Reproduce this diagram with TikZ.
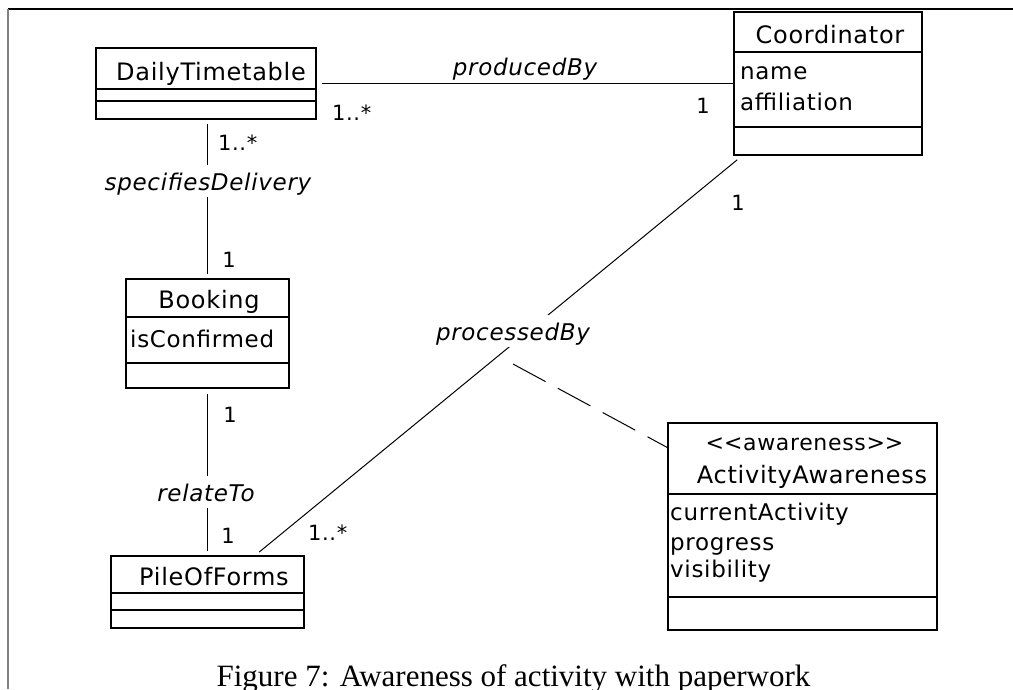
\documentclass[tikz,border=0pt]{standalone}
\usepackage{fontspec}
\setmainfont{Liberation Serif}
\newfontfamily\umlfont{DejaVu Sans}[ItalicFont={DejaVu Sans Oblique}, LetterSpace=3]
\usetikzlibrary{calc}
\begin{document}
\begin{tikzpicture}[x=1pt,y=-1pt,
  cls/.style={draw, line width=1.6pt, inner sep=0pt},
  div/.style={line width=1.5pt},
  cname/.style={font=\umlfont\fontsize{24}{28}\selectfont, anchor=base, inner sep=0pt},
  attr/.style={font=\umlfont\fontsize{23}{28}\selectfont, anchor=base west, inner sep=0pt},
  mult/.style={font=\umlfont\fontsize{21}{25}\selectfont, anchor=base, inner sep=0pt},
  assoc/.style={font=\umlfont\itshape\fontsize{23}{28}\selectfont, anchor=base, fill=white,
    text height=23pt, text depth=5pt, inner ysep=2pt, inner xsep=2pt},
  conn/.style={line width=1.3pt},
  thinconn/.style={line width=1pt},
]
\useasboundingbox (0,0) rectangle (1013,689);
\fill[white] (0,0) rectangle (1013,689);

% frame
\coordinate (ftl) at (8,9);
\coordinate (ftr) at (1013,9);
\coordinate (fbl) at (8,689);
\draw[line width=1.2pt] (ftl) -- (ftr);
\draw[line width=2pt, gray] (ftl) -- (fbl);

% class boxes
\node[cls, minimum width=220pt, minimum height=71pt] (dt) at (206,83.5) {};
\node[cls, minimum width=188pt, minimum height=143pt] (coord) at (828,83.5) {};
\node[cls, minimum width=163pt, minimum height=109pt] (book) at (207.5,333.5) {};
\node[cls, minimum width=193pt, minimum height=72pt] (pof) at (207.5,592) {};
\node[cls, minimum width=269pt, minimum height=207pt] (aa) at (802.5,526.5) {};

% compartment dividers
\draw[div] (96,89) -- (316,89);
\draw[div] (96,101) -- (316,101);
\draw[div] (734,52) -- (922,52);
\draw[div] (734,127) -- (922,127);
\draw[div] (126,317) -- (289,317);
\draw[div] (126,363) -- (289,363);
\draw[div] (111,593) -- (304,593);
\draw[div] (111,610) -- (304,610);
\draw[div] (668,494) -- (937,494);
\draw[div] (668,597) -- (937,597);

% class texts
\node[cname] (dtn) at (211,80) {DailyTimetable};
\node[cname] (cn) at (830,43) {Coordinator};
\node[attr] (ca1) at (740,79) {name};
\node[attr] (ca2) at (740,110) {affiliation};
\node[cname] (bn) at (209,308) {Booking};
\node[attr] (ba1) at (130,347) {isConfirmed};
\node[cname] (pn) at (214,585) {PileOfForms};
\node[cname, font=\umlfont\fontsize{22}{26}\selectfont] (as) at (804.5,450) {<\kern0pt<awareness>\kern0pt>};
\node[cname] (an) at (812,483) {ActivityAwareness};
\node[attr] (aa1) at (670,520) {currentActivity};
\node[attr] (aa2) at (670,550) {progress};
\node[attr] (aa3) at (670,577) {visibility};

% connectors
\draw[conn, shorten <=5pt] (dt.east) -- (coord.west |- dt.east);
\draw[conn, shorten <=4pt, shorten >=4pt] (dt.south -| book.north) -- (book.north);
\draw[conn, shorten <=5pt, shorten >=4pt] (book.south) -- (pof.north);
\coordinate (cport) at ([shift={(4,4)}]coord.south west);
\coordinate (pofport) at ($(pof.north west)!0.746!(pof.north east)$);
\draw[thinconn, shorten >=5pt] (cport) -- (pofport);
\coordinate (amid) at (513,364);
\coordinate (aaport) at ($(aa.north west)!0.121!(aa.south west)$);
\draw[thinconn, dash pattern=on 37pt off 14pt] (amid) -- (aaport);

% association labels
\node[assoc, fill=none] (pb) at (525,75) {producedBy};
\node[assoc] (sd) at (208,190) {specifiesDelivery};
\node[assoc] (rt) at (206,501) {relateTo};
\node[assoc] (pr) at (513,340) {processedBy};

% multiplicities
\node[mult, anchor=base west] (m1) at (332,120) {1..*};
\node[mult] (m2) at (703,113) {1};
\node[mult, anchor=base west] (m3) at (218,150) {1..*};
\node[mult] (m4) at (229,267) {1};
\node[mult] (m5) at (230,422) {1};
\node[mult] (m6) at (228,543) {1};
\node[mult] (m7) at (738,210) {1};
\node[mult, anchor=base west] (m8) at (308,540) {1..*};

% caption
\node[font=\fontsize{31}{36}\selectfont, anchor=base, inner sep=0pt] (cap) at (513.5,686) {Figure 7: Awareness of activity with paperwork};
\end{tikzpicture}
\end{document}
